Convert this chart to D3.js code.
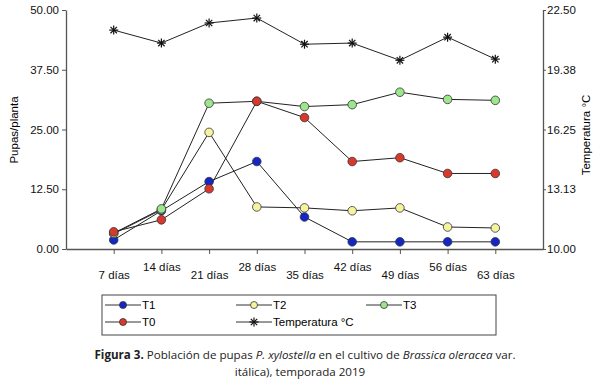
<!DOCTYPE html>
<html>
<head>
<meta charset="utf-8">
<script src="https://cdn.jsdelivr.net/npm/d3@7"></script>
<style>
  body { margin: 0; background: #fff; }
  svg { display: block; }
  .caption { font-family: "Open Sans", "DejaVu Sans", sans-serif; font-size: 11.6px; fill: #222; }
</style>
</head>
<body>
<svg id="viz" width="600" height="382"></svg>
<script>
// data
var dias = ['7 días', '14 días', '21 días', '28 días', '35 días', '42 días', '49 días', '56 días', '63 días'];
var t1 = [1.9, 8.0, 14.1, 18.3, 6.7, 1.5, 1.5, 1.5, 1.5];
var t2 = [3.2, 8.2, 24.4, 8.8, 8.6, 8.0, 8.6, 4.6, 4.4];
var t3 = [3.3, 8.4, 30.5, 30.9, 29.8, 30.2, 32.8, 31.3, 31.1];
var t0 = [3.6, 6.1, 12.6, 30.9, 27.5, 18.3, 19.1, 15.8, 15.8];
var temp = [21.45, 20.77, 21.82, 22.08, 20.71, 20.77, 19.87, 21.08, 19.93];
var leftTicks = [0, 12.5, 25, 37.5, 50];
var rightTicks = [10, 13.125, 16.25, 19.375, 22.5];

var FONT = '"Liberation Sans", Arial, Helvetica, sans-serif';

var svg = d3.select('#viz');
var margin = { left: 66, right: 57, top: 10, bottom: 133 };
var width = 600 - margin.left - margin.right;
var height = 382 - margin.top - margin.bottom;

var g = svg.append('g')
  .attr('transform', 'translate(' + margin.left + ',' + margin.top + ')')
  .attr('font-family', FONT);

var x = d3.scalePoint().range([0, width]).domain(dias).padding(1);
var y = d3.scaleLinear().domain([0, 50]).range([height, 0]);
var yT = d3.scaleLinear().domain([10, 22.5]).range([height, 0]);

// axes
var xAxis = g.append('g')
  .attr('transform', 'translate(0,' + height + ')')
  .call(d3.axisBottom(x).tickSize(5).tickSizeOuter(0));
xAxis.selectAll('text')
  .attr('dy', function (d, i) { return i % 2 == 0 ? '1.95em' : '1.2em'; });

var yAxis = g.append('g').call(d3.axisLeft(y).tickValues(leftTicks).tickFormat(d3.format('.2f')).tickSize(4).tickSizeOuter(0));
var yAxisR = g.append('g')
  .attr('transform', 'translate(' + width + ',0)')
  .call(d3.axisRight(yT).tickValues(rightTicks).tickFormat(d3.format('.2f')).tickSize(3).tickPadding(1).tickSizeOuter(0));

[xAxis, yAxis, yAxisR].forEach(function (a) {
  a.attr('font-family', FONT).attr('font-size', 11.5);
  a.select('.domain').attr('stroke', '#555').attr('stroke-width', 1.3);
  a.selectAll('.tick line').attr('stroke', '#555');
  a.selectAll('text').attr('fill', '#111');
});

g.append('text')
  .attr('transform', 'rotate(-90)')
  .attr('x', -120)
  .attr('y', -48)
  .attr('text-anchor', 'middle')
  .attr('font-size', 11.5)
  .text('Pupas/planta');

g.append('text')
  .attr('transform', 'rotate(-90)')
  .attr('x', -125)
  .attr('y', width + 47)
  .attr('text-anchor', 'middle')
  .attr('font-size', 11.5)
  .text('Temperatura °C');

// series
var series = [
  { name: 'T1', vals: t1, fill: '#1426c8' },
  { name: 'T2', vals: t2, fill: '#f6f3a0' },
  { name: 'T3', vals: t3, fill: '#9ee68e' },
  { name: 'T0', vals: t0, fill: '#d8392c' }
];

var line = d3.line()
  .x(function (d, i) { return x(dias[i]); })
  .y(function (d) { return y(d); });

series.forEach(function (s) {
  g.append('path')
    .datum(s.vals)
    .attr('d', line)
    .attr('fill', 'none')
    .attr('stroke', '#222')
    .attr('stroke-width', 1);
});

series.forEach(function (s) {
  g.selectAll('.pt-' + s.name)
    .data(s.vals)
    .enter()
    .append('circle')
    .attr('cx', function (d, i) { return x(dias[i]); })
    .attr('cy', function (d) { return y(d); })
    .attr('r', 4.3)
    .attr('fill', s.fill)
    .attr('stroke', '#333')
    .attr('stroke-width', 0.8);
});

// temperature
var lineT = d3.line()
  .x(function (d, i) { return x(dias[i]); })
  .y(function (d) { return yT(d); });

g.append('path')
  .datum(temp)
  .attr('d', lineT)
  .attr('fill', 'none')
  .attr('stroke', '#222')
  .attr('stroke-width', 1);

var star = function (sel, cx, cy) {
  var r = 4.5;
  [0, 45, 90, 135].forEach(function (a) {
    var rad = a * Math.PI / 180;
    sel.append('line')
      .attr('x1', cx - r * Math.cos(rad)).attr('y1', cy - r * Math.sin(rad))
      .attr('x2', cx + r * Math.cos(rad)).attr('y2', cy + r * Math.sin(rad))
      .attr('stroke', '#111').attr('stroke-width', 1.2);
  });
};

temp.forEach(function (d, i) {
  star(g, x(dias[i]), yT(d));
});

// legend
var leg = svg.append('g').attr('font-family', FONT);
leg.append('rect')
  .attr('x', 102).attr('y', 295).attr('width', 394).attr('height', 40)
  .attr('fill', '#fff').attr('stroke', '#444').attr('stroke-width', 1);

var legItems = [
  { name: 'T1', fill: '#1426c8', x: 105, y: 305 },
  { name: 'T2', fill: '#f6f3a0', x: 236, y: 305 },
  { name: 'T3', fill: '#9ee68e', x: 366, y: 305 },
  { name: 'T0', fill: '#d8392c', x: 105, y: 322 },
  { name: 'Temperatura °C', fill: null, x: 236, y: 322 }
];

legItems.forEach(function (it) {
  leg.append('line')
    .attr('x1', it.x).attr('x2', it.x + 36)
    .attr('y1', it.y).attr('y2', it.y)
    .attr('stroke', '#333').attr('stroke-width', 1);
  if (it.fill) {
    leg.append('circle')
      .attr('cx', it.x + 18).attr('cy', it.y).attr('r', 3.5)
      .attr('fill', it.fill).attr('stroke', '#333').attr('stroke-width', 0.8);
  } else {
    star(leg, it.x + 18, it.y);
  }
  leg.append('text')
    .attr('x', it.x + 37).attr('y', it.y + 4)
    .attr('font-size', 11.5)
    .text(it.name);
});

// caption
var cap1 = svg.append('text').attr('class', 'caption').attr('x', 305).attr('y', 359).attr('text-anchor', 'middle');
cap1.append('tspan').style('font-weight', 'bold').text('Figura 3.');
cap1.append('tspan').text(' Población de pupas ');
cap1.append('tspan').style('font-style', 'italic').text('P. xylostella');
cap1.append('tspan').text(' en el cultivo de ');
cap1.append('tspan').style('font-style', 'italic').text('Brassica oleracea');
cap1.append('tspan').text(' var.');

svg.append('text').attr('class', 'caption').attr('x', 300).attr('y', 375.5).attr('text-anchor', 'middle')
  .text('itálica), temporada 2019');
</script>
</body>
</html>
